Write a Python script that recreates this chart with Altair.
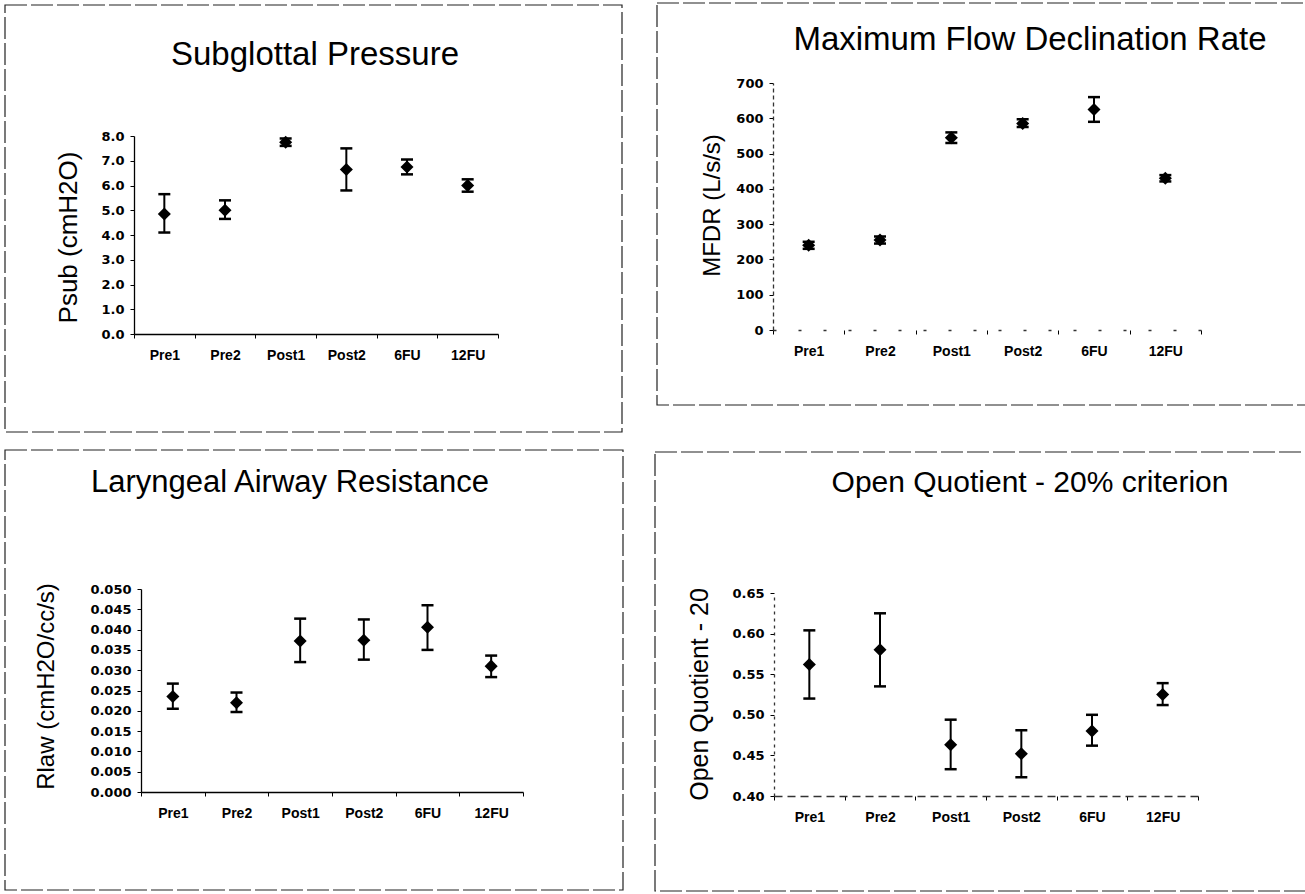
import altair as alt
import pandas as pd

# Measurement sessions (x categories shared by all four panels)
phases = ["Pre1", "Pre2", "Post1", "Post2", "6FU", "12FU"]

# Subglottal pressure (cmH2O): mean and error-bar ends
psub_mean = [4.85, 5.0, 7.75, 6.65, 6.75, 6.0]
psub_low = [4.1, 4.65, 7.6, 5.8, 6.45, 5.75]
psub_high = [5.65, 5.4, 7.9, 7.5, 7.05, 6.25]

# Maximum flow declination rate (L/s/s)
mfdr_mean = [240, 255, 545, 585, 625, 430]
mfdr_low = [230, 245, 530, 575, 590, 421]
mfdr_high = [250, 265, 560, 597, 660, 439]

# Laryngeal airway resistance (cmH2O/cc/s)
rlaw_mean = [0.0235, 0.0220, 0.0372, 0.0374, 0.0406, 0.0310]
rlaw_low = [0.0205, 0.0197, 0.0320, 0.0326, 0.0350, 0.0283]
rlaw_high = [0.0267, 0.0245, 0.0427, 0.0425, 0.0460, 0.0336]

# Open quotient, 20% criterion
oq_mean = [0.562, 0.580, 0.463, 0.452, 0.480, 0.525]
oq_low = [0.520, 0.535, 0.433, 0.423, 0.462, 0.512]
oq_high = [0.604, 0.625, 0.494, 0.481, 0.500, 0.539]

# Tick values for each vertical axis
psub_ticks = [0, 1, 2, 3, 4, 5, 6, 7, 8]
mfdr_ticks = [0, 100, 200, 300, 400, 500, 600, 700]
rlaw_ticks = [0.0, 0.005, 0.010, 0.015, 0.020, 0.025, 0.030, 0.035, 0.040, 0.045, 0.050]
oq_ticks = [0.40, 0.45, 0.50, 0.55, 0.60, 0.65]

W, H = 1305, 894
FONT = "Liberation Sans"
TICK_FONT = "DejaVu Sans"


def frame(m, lo, hi):
    return pd.DataFrame({"phase": phases, "mean": m, "low": lo, "high": hi})


def panel(df, xr, yr, ydomain, ticks, fmt, ytitle, title_size, title_cx, title_cy,
          xdash=None, ydash=None):
    xscale = alt.Scale(type="band", domain=phases, range=xr,
                       paddingInner=0, paddingOuter=0)
    xaxis_kw = dict(orient="bottom", offset=yr[0] - H, title=None, labelAngle=0,
                    labelFont=FONT, labelFontSize=14, labelFontWeight="bold",
                    tickBand="extent", tickSize=4, labelPadding=10,
                    domainColor="black", tickColor="black", domainWidth=1.3)
    if xdash:
        xaxis_kw["domainDash"] = xdash
        xaxis_kw["domainColor"] = "#333"
    yaxis_kw = dict(orient="left", offset=-xr[0], values=ticks, format=fmt,
                    title=ytitle, titleX=title_cx - xr[0], titleY=title_cy,
                    titleAngle=-90, titleAlign="center", titleBaseline="middle",
                    titleFontSize=title_size, titleFontWeight="normal",
                    labelFont=TICK_FONT, labelFontSize=13, labelFontWeight="bold",
                    tickSize=4, labelPadding=6, domainColor="black",
                    tickColor="black", domainWidth=1.3, grid=False)
    if ydash:
        yaxis_kw["domainDash"] = ydash
        yaxis_kw["domainColor"] = "#333"
    x = alt.X("phase:N", sort=phases, scale=xscale, axis=alt.Axis(**xaxis_kw))
    yscale = alt.Scale(domain=ydomain, range=yr, nice=False, zero=False)
    yaxis = alt.Axis(**yaxis_kw)
    base = alt.Chart(df).encode(x=x)
    bars = base.mark_rule(color="black", strokeWidth=2).encode(
        y=alt.Y("low:Q", scale=yscale, axis=yaxis), y2="high:Q")
    caps = base.transform_fold(["low", "high"], as_=["end", "val"]).mark_tick(
        orient="horizontal", size=12, thickness=2.5, color="black", opacity=1
    ).encode(y=alt.Y("val:Q", scale=yscale, axis=yaxis))
    pts = base.mark_point(shape="diamond", filled=True, size=170, color="black",
                          opacity=1).encode(
        y=alt.Y("mean:Q", scale=yscale, axis=yaxis))
    return alt.layer(bars, caps, pts)


p1 = panel(frame(psub_mean, psub_low, psub_high), [134, 498], [334, 136],
           [0, 8], psub_ticks, ".1f", "Psub (cmH2O)", 26, 68, 237)
p2 = panel(frame(mfdr_mean, mfdr_low, mfdr_high), [773, 1201], [330, 83],
           [0, 700], mfdr_ticks, "d", "MFDR (L/s/s)", 24, 712, 205,
           xdash=[3, 22], ydash=[4, 3])
p3 = panel(frame(rlaw_mean, rlaw_low, rlaw_high), [141, 523], [792, 589],
           [0, 0.05], rlaw_ticks, ".3f", "Rlaw (cmH2O/cc/s)", 24, 46, 686)
p4 = panel(frame(oq_mean, oq_low, oq_high), [774, 1198], [796, 593],
           [0.40, 0.65], oq_ticks, ".2f", "Open Quotient - 20", 25, 699, 694,
           xdash=[8, 5], ydash=[3, 4])

# Chart titles: text, size, centre
titles = [
    ("Subglottal Pressure", 33, 315, 55),
    ("Maximum Flow Declination Rate", 33, 1030, 40),
    ("Laryngeal Airway Resistance", 31, 290, 483),
    ("Open Quotient - 20% criterion", 30, 1030, 483),
]
title_layers = [
    alt.Chart(pd.DataFrame({"t": [t]})).mark_text(
        font=FONT, fontSize=fs, color="black", align="center", baseline="middle"
    ).encode(text="t:N", x=alt.value(cx), y=alt.value(cy))
    for t, fs, cx, cy in titles
]

# Chart-area borders around each panel
boxes = [(5, 622, 5, 432), (657, 1320, 3, 405), (5, 623, 450, 890), (655, 1320, 452, 891)]
box_layers = [
    alt.Chart(pd.DataFrame({"b": [i]})).mark_rect(
        fill=None, stroke="#222", strokeWidth=1.2, strokeDash=[22, 4]
    ).encode(x=alt.value(x0), x2=alt.value(x1), y=alt.value(y0), y2=alt.value(y1))
    for i, (x0, x1, y0, y1) in enumerate(boxes)
]

chart = alt.layer(
    *box_layers, p1, p2, p3, p4, *title_layers
).resolve_scale(
    x="independent", y="independent"
).resolve_axis(
    x="independent", y="independent"
).properties(
    width=W, height=H, padding=0,
    autosize=alt.AutoSizeParams(type="none"),
    background="white",
).configure_view(
    stroke=None
).configure_axis(
    labelFont=TICK_FONT, titleFont=FONT, labelColor="black", titleColor="black"
)

chart.save("out.html", embed_options={"renderer": "svg", "actions": False})
